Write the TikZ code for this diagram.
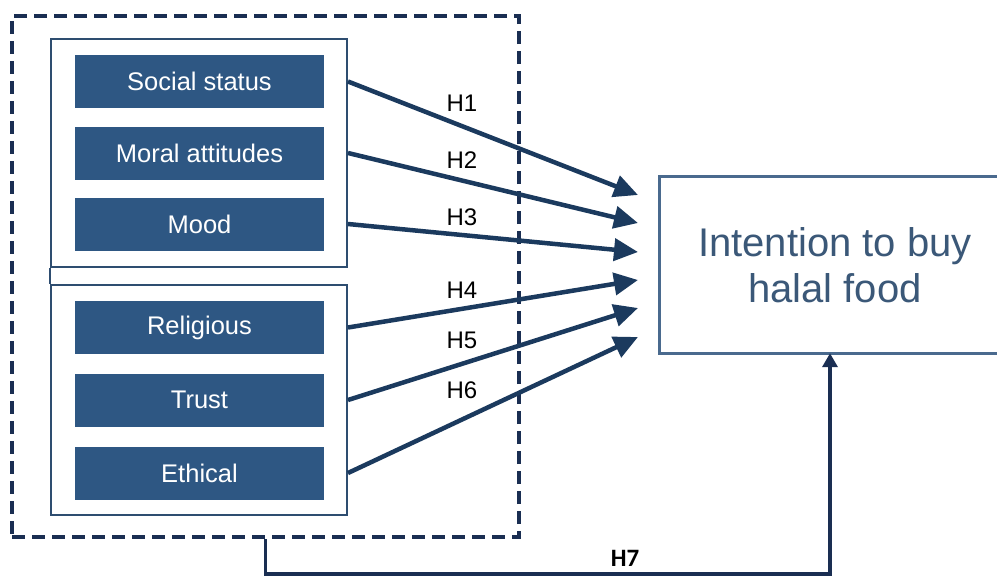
\documentclass[tikz,border=0pt]{standalone}
\usepackage{fontspec}
\setmainfont{Liberation Sans}
\newfontfamily\hsevenfont{Carlito}
\usetikzlibrary{arrows.meta,calc}
\definecolor{itemblue}{HTML}{2E5783}
\definecolor{arrowblue}{HTML}{1B3A5E}
\definecolor{dashblue}{HTML}{1A2E52}
\definecolor{groupblue}{HTML}{2E4D70}
\definecolor{targetblue}{HTML}{4A6A8E}
\definecolor{targettext}{HTML}{3B5878}
\begin{document}
\begin{tikzpicture}[x=1pt,y=-1pt,
  item/.style={fill=itemblue, text=white, minimum width=249, minimum height=53,
    inner sep=0, font=\fontsize{25.5}{30}\selectfont},
  groupbox/.style={draw=groupblue, line width=2, minimum width=296, inner sep=0},
  outerbox/.style={draw=dashblue, line width=4, dash pattern=on 13 off 7,
    minimum width=507, minimum height=521, inner sep=0},
  hyp/.style={draw=arrowblue, line width=4.5, -{Triangle[length=24pt,width=22pt]}},
  hlabel/.style={font=\fontsize{24}{28}\selectfont, text=black, inner sep=0},
  h7line/.style={draw=dashblue, line width=3.5, -{Triangle[length=14pt,width=15pt]}}]
\useasboundingbox[fill=white] (0,0) rectangle (997,576);

% outer dashed box
\node[outerbox] (outer) at (265.5,276.5) {};

% group boxes
\node[groupbox, minimum height=228] (g1) at (199,153) {};
\node[groupbox, minimum height=230] (g2) at (199,400) {};
\draw[groupblue, line width=2] (g1.south west) -- (g2.north west);

% items
\node[item] (s1) at (199.5,81.5) {Social status};
\node[item] (s2) at (199.5,153) {Moral attitudes};
\node[item] (s3) at (199.5,224) {Mood};
\node[item] (s4) at (199.5,327.5) {Religious};
\node[item] (s5) at (199.5,400) {Trust};
\node[item] (s6) at (199.5,473) {Ethical};

% target
\node[minimum width=350, minimum height=176, inner sep=0, align=center,
  text=targettext, font=\fontsize{40}{46}\selectfont] (target) at (835,265)
  {Intention to buy\\halal food};
\draw[targetblue, line width=3] (target.north east) -- (target.north west)
  -- (target.south west) -- (target.south east);

% arrow end points
\coordinate (t1) at (638,195);
\coordinate (t2) at (638,223);
\coordinate (t3) at (638,252);
\coordinate (t4) at (638,280);
\coordinate (t5) at (638,308);
\coordinate (t6) at (638,337);

\draw[hyp] (s1.east -| g1.east) -- (t1);
\draw[hyp] (s2.east -| g1.east) -- (t2);
\draw[hyp] (s3.east -| g1.east) -- (t3);
\draw[hyp] (s4.east -| g2.east) -- (t4);
\draw[hyp] (s5.east -| g2.east) -- (t5);
\draw[hyp] (s6.east -| g2.east) -- (t6);

\node[hlabel] (h1) at (462,103) {H1};
\node[hlabel] (h2) at (462,160) {H2};
\node[hlabel] (h3) at (462,217) {H3};
\node[hlabel] (h4) at (462,290) {H4};
\node[hlabel] (h5) at (462,340) {H5};
\node[hlabel] (h6) at (462,390) {H6};

% H7
\coordinate (h7turn) at ($(outer.south)+(0,35)$);
\draw[h7line] (outer.south) -- (h7turn) -| ($(target.south)+(-5,0)$);
\node[font=\hsevenfont\bfseries\fontsize{25}{29}\selectfont, inner sep=0] (h7) at (625,558) {H7};
\end{tikzpicture}
\end{document}
